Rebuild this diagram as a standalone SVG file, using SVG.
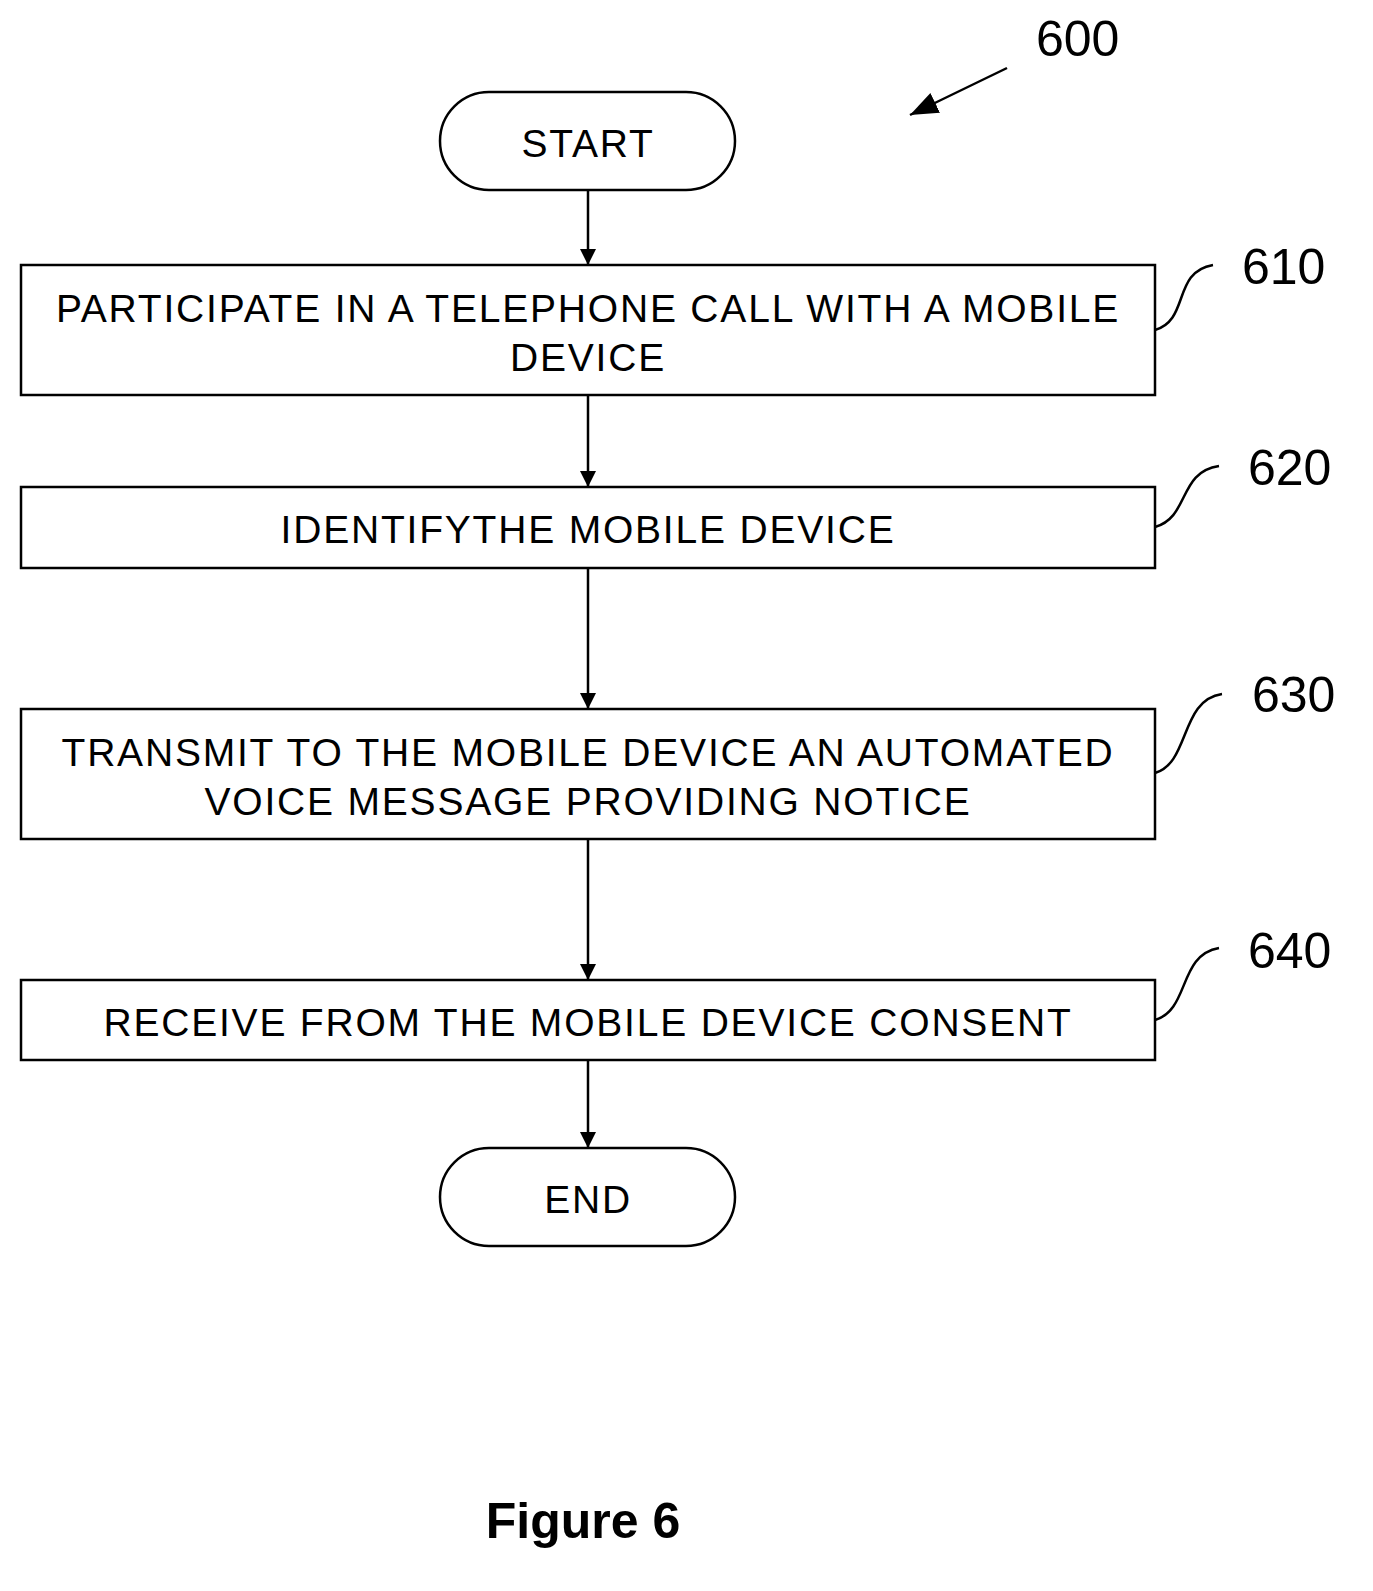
<svg xmlns="http://www.w3.org/2000/svg" width="1373" height="1591" viewBox="0 0 1373 1591">
<style>
.b{fill:#fff;stroke:#000;stroke-width:2.5}
.t{font-family:"Liberation Sans",Arial,sans-serif;font-size:39px;letter-spacing:1.8px;text-anchor:middle}
.n{font-family:"Liberation Sans",Arial,sans-serif;font-size:50px}
.c{fill:none;stroke:#000;stroke-width:2.5}
</style>
<defs><marker id="a" markerWidth="16" markerHeight="20" refX="15" refY="8" orient="auto" markerUnits="userSpaceOnUse"><path d="M0,0 L16,8 L0,16 z"/></marker>
<marker id="h" markerWidth="30" markerHeight="24" refX="28" refY="11" orient="auto" markerUnits="userSpaceOnUse"><path d="M0,0 L28,11 L0,22 z"/></marker></defs>
<rect width="1373" height="1591" fill="#fff"/>
<g id="start"><rect class="b" x="440" y="92" width="295" height="98" rx="49"/><text class="t" x="588" y="157">START</text></g>
<g id="n610"><rect class="b" x="21" y="265" width="1134" height="130"/><text class="t" x="588" y="322">PARTICIPATE IN A TELEPHONE CALL WITH A MOBILE</text><text class="t" x="588" y="371">DEVICE</text></g>
<g id="n620"><rect class="b" x="21" y="487" width="1134" height="81"/><text class="t" x="588" y="543">IDENTIFYTHE MOBILE DEVICE</text></g>
<g id="n630"><rect class="b" x="21" y="709" width="1134" height="130"/><text class="t" x="588" y="766">TRANSMIT TO THE MOBILE DEVICE AN AUTOMATED</text><text class="t" x="588" y="815">VOICE MESSAGE PROVIDING NOTICE</text></g>
<g id="n640"><rect class="b" x="21" y="980" width="1134" height="80"/><text class="t" x="588" y="1036">RECEIVE FROM THE MOBILE DEVICE CONSENT</text></g>
<g id="end"><rect class="b" x="440" y="1148" width="295" height="98" rx="49"/><text class="t" x="588" y="1213">END</text></g>
<g id="labels">
<text class="n" x="1036" y="56">600</text>
<text class="n" x="1242" y="284">610</text>
<text class="n" x="1248" y="485">620</text>
<text class="n" x="1252" y="712">630</text>
<text class="n" x="1248" y="968">640</text>
<text x="583" y="1538" font-family="Liberation Sans,Arial,sans-serif" font-size="50" font-weight="bold" text-anchor="middle">Figure 6</text>
</g>
<g id="connectors">
<line class="c" x1="588" y1="190" x2="588" y2="264" marker-end="url(#a)"/>
<line class="c" x1="588" y1="395" x2="588" y2="486" marker-end="url(#a)"/>
<line class="c" x1="588" y1="568" x2="588" y2="708" marker-end="url(#a)"/>
<line class="c" x1="588" y1="839" x2="588" y2="979" marker-end="url(#a)"/>
<line class="c" x1="588" y1="1060" x2="588" y2="1147" marker-end="url(#a)"/>
<line class="c" x1="1007" y1="68" x2="910" y2="115" marker-end="url(#h)"/>
<path class="c" d="M1155 330 C1190 320 1172 272 1213 265"/>
<path class="c" d="M1155 527 C1190 517 1178 472 1219 466"/>
<path class="c" d="M1155 773 C1190 763 1180 700 1222 694"/>
<path class="c" d="M1155 1020 C1190 1010 1178 955 1219 948"/>
</g>
</svg>
